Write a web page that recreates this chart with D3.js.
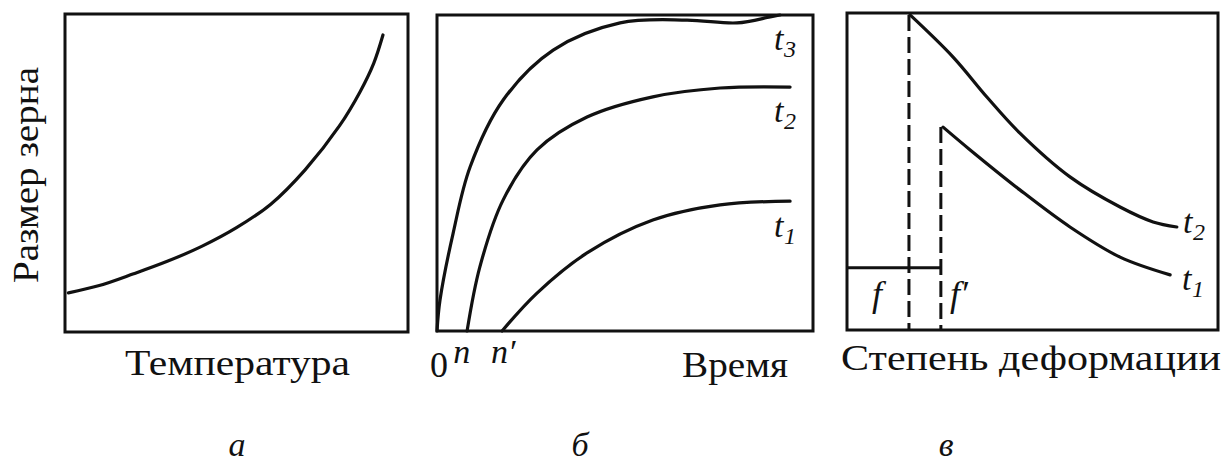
<!DOCTYPE html>
<html>
<head>
<meta charset="utf-8">
<script src="https://cdn.jsdelivr.net/npm/d3@7"></script>
</head>
<body style="margin:0">
<svg id="chart" width="1223" height="464"></svg>
<script>
// Panel а: grain size vs temperature
const tempX = [1, 10, 20, 30, 40, 50, 60, 70, 80, 86, 90, 92.7];
const tempY = [12.3, 14.6, 18.3, 22.3, 27.0, 32.8, 40.2, 51.0, 64.8, 75.5, 84.5, 93.4];

// Panel б: grain size vs annealing time at t1 < t2 < t3
const timeT3X = [0, 0.8, 4.3, 8.8, 17.6, 30.9, 48.7, 66.5, 79.8, 88.6, 91.2];
const timeT3Y = [0, 9.8, 31.0, 51.9, 73.1, 88.9, 97.5, 98.4, 97.5, 99.4, 100];
const timeT2X = [8.0, 11.4, 17.6, 26.6, 39.9, 57.4, 75.3, 93.9];
const timeT2Y = [0, 20.3, 41.5, 57.3, 67.7, 74.1, 76.9, 77.2];
const timeT1X = [17.3, 26.6, 39.9, 57.4, 75.3, 93.9];
const timeT1Y = [0, 12.0, 24.7, 35.1, 39.9, 41.1];
const timeTicks = ["0", "n", "n′"];
const timeTickX = [0, 7, 17];

// Panel в: grain size vs degree of deformation
const defT2X = [17.0, 28.6, 37.7, 46.6, 60.1, 73.6, 82.5, 88.9];
const defT2Y = [99.4, 86.1, 73.5, 62.1, 48.3, 38.8, 34.1, 32.5];
const defT1X = [25.9, 33.2, 46.6, 60.1, 73.6, 87.1];
const defT1Y = [64.0, 56.8, 44.2, 32.5, 23.0, 17.4];
const critX = [16.7, 25.3];       // critical deformations f, f′
const critLabels = ["f", "f′"];
const critLevel = 19.6;           // height of the f / f′ bracket

const panelLetters = ["а", "б", "в"];
const xTitles = ["Температура", "Время", "Степень деформации"];
const yTitle = "Размер зерна";

const svg = d3.select("#chart");
const ink = "#111";
const fontName = '"Liberation Serif"';
const maxSize = 36;   // largest size set directly in the serif face

// plot frames
const frames = [
  { x0: 65,  x1: 408,  y0: 14, y1: 332 },
  { x0: 437, x1: 813,  y0: 15, y1: 331 },
  { x0: 847, x1: 1218, y0: 13, y1: 330 }
];
const scales = frames.map(f => ({
  x: d3.scaleLinear().domain([0, 100]).range([f.x0, f.x1]),
  y: d3.scaleLinear().domain([0, 100]).range([f.y1, f.y0])
}));

function zip(xs, ys) { return xs.map((x, i) => [x, ys[i]]); }

function curve(g, s, xs, ys) {
  const line = d3.line()
    .x(d => s.x(d[0])).y(d => s.y(d[1]))
    .curve(d3.curveCatmullRom.alpha(0.5));
  g.append("path")
    .attr("d", line(zip(xs, ys)))
    .attr("fill", "none")
    .attr("stroke", ink)
    .attr("stroke-width", 3.2)
    .attr("stroke-linecap", "round")
    .attr("stroke-linejoin", "round");
}

// text at (x, y); optional rotation, anchor and fitted width
function label(g, x, y, size, str, italic, opts = {}) {
  const t = g.append("text")
    .attr("x", 0).attr("y", 0)
    .attr("transform", `translate(${x},${y})` + (opts.rotate ? ` rotate(${opts.rotate})` : ""))
    .attr("fill", ink)
    .style("font-family", fontName)
    .style("font-size", Math.min(size, maxSize) + "px")
    .style("font-style", italic ? "italic" : "normal")
    .text(str);
  if (opts.anchor) t.attr("text-anchor", opts.anchor);
  if (opts.width) t.attr("textLength", opts.width).attr("lengthAdjust", "spacingAndGlyphs");
  return t;
}

function tLabel(g, x, y, sub) {
  label(g, x, y, 34, "t", true);
  label(g, x + 10, y + 7, 24, sub, true);
}

const panels = frames.map(f => {
  const g = svg.append("g");
  g.append("rect")
    .attr("x", f.x0).attr("y", f.y0)
    .attr("width", f.x1 - f.x0).attr("height", f.y1 - f.y0)
    .attr("fill", "none").attr("stroke", ink).attr("stroke-width", 3);
  return g;
});

// ---- а
{
  const s = scales[0], g = panels[0];
  curve(g, s, tempX, tempY);
  label(g, 125, 375, 36, xTitles[0], false, { width: 225 });
  label(g, 38, 283, 36, yTitle, false, { rotate: -90, width: 216 });
}

// ---- б
{
  const s = scales[1], g = panels[1];
  curve(g, s, timeT3X, timeT3Y);
  curve(g, s, timeT2X, timeT2Y);
  curve(g, s, timeT1X, timeT1Y);
  tLabel(g, 774, 50, "3");
  tLabel(g, 774, 122, "2");
  tLabel(g, 774, 237, "1");
  label(g, s.x(timeTickX[0]) - 7, 377, 36, timeTicks[0], false);
  timeTicks.slice(1).forEach((d, i) => {
    label(g, s.x(timeTickX[i + 1]) - 10, 363, 34, d, true);
  });
  label(g, 682, 377, 36, xTitles[1], false, { width: 106 });
}

// ---- в
{
  const s = scales[2], g = panels[2];
  curve(g, s, defT2X, defT2Y);
  curve(g, s, defT1X, defT1Y);
  // dashed verticals at the critical deformations
  const tops = [defT2Y[0], defT1Y[0]];
  critX.forEach((cx, i) => {
    g.append("line")
      .attr("x1", s.x(cx)).attr("x2", s.x(cx))
      .attr("y1", s.y(tops[i])).attr("y2", s.y(0))
      .attr("stroke", ink).attr("stroke-width", 3)
      .attr("stroke-dasharray", "16,6");
  });
  // bracket joining f and f′
  g.append("line")
    .attr("x1", s.x(0)).attr("x2", s.x(critX[1]))
    .attr("y1", s.y(critLevel)).attr("y2", s.y(critLevel))
    .attr("stroke", ink).attr("stroke-width", 3);
  label(g, 872, 306, 36, critLabels[0], true);
  label(g, 950, 306, 36, critLabels[1], true);
  tLabel(g, 1183, 233, "2");
  tLabel(g, 1182, 290, "1");
  label(g, 841, 370, 36, xTitles[2], false, { width: 380 });
}

// panel letters
const letterX = [237, 580, 946];
panelLetters.forEach((d, i) => {
  label(svg, letterX[i], 456, 34, d, true, { anchor: "middle" });
});
</script>
</body>
</html>
